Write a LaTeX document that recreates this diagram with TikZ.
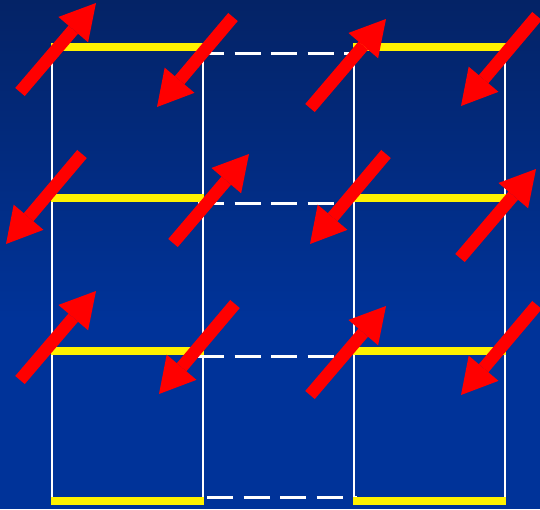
\documentclass[tikz,border=0pt]{standalone}
\usepackage{tikz}
\usetikzlibrary{arrows.meta}
\definecolor{bgtop}{RGB}{4,35,102}
\definecolor{bgbot}{RGB}{0,51,153}
\tikzstyle{spin}=[draw=red, line width=12.5pt, -{Triangle[length=35pt,width=39pt,line width=0pt 0]}]
\tikzstyle{leg}=[draw=white, line width=2.2pt]
\tikzstyle{rung}=[draw=yellow, line width=8pt]
\tikzstyle{weak}=[draw=white, line width=3pt, dash pattern=on 26pt off 10.5pt]

\begin{document}
\begin{tikzpicture}
        [x=1pt,y=-1pt]
            \useasboundingbox (0,0) rectangle (540,509);
            \shade [top color=bgtop, bottom color=bgbot] (0,0) rectangle (540,320);
            \fill [bgbot] (0,319) rectangle (540,509);
            % legs of the two ladders
            \foreach \x in {52,203,354,505}
                \draw [leg] (\x,47) -- (\x,501);
            % weak links between the ladders
            \foreach \y in {53,203,356}
                \draw [weak] (198,\y) -- (349,\y);
            \draw [weak] (207,497) -- (357,497);
            % rungs
            \foreach \y in {47,198,351,501} {
                \draw [rung] (51,\y) -- (204,\y);
                \draw [rung] (353,\y) -- (506,\y);
            }
            % spins
            \foreach \x/\y in {20/92,310/108,173/243,460/258,20/380,310/395}
                \draw [spin] (\x,\y) -- ++(76,-89);
            \foreach \x/\y in {233/17,537/16,82/154,386/154,235/304,537/305}
                \draw [spin] (\x,\y) -- ++(-76,90);
        \end{tikzpicture}
\end{document}
